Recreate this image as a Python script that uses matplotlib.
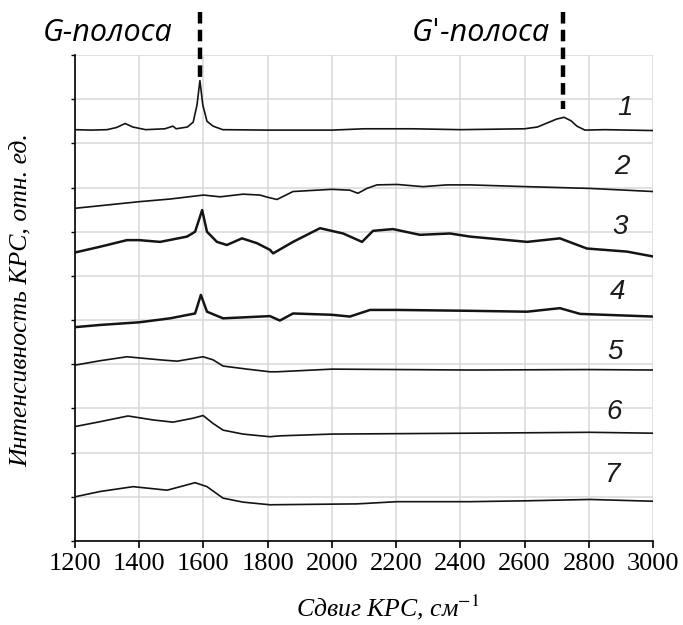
import numpy as np
import matplotlib.pyplot as plt

plt.rcParams['mathtext.fontset'] = 'stix'

# Raman spectra, values (y in grid units, offset stack)
shift_1 = [1200, 1250, 1300, 1330, 1356, 1380, 1420, 1480, 1505, 1515, 1550, 1568, 1580,
           1589, 1598, 1611, 1630, 1660, 1800, 2000, 2100, 2250, 2400, 2600, 2640, 2670,
           2700, 2723, 2745, 2763, 2788, 2850, 3000]
int_1 = [9.31, 9.30, 9.31, 9.36, 9.45, 9.37, 9.31, 9.33, 9.39, 9.33, 9.37, 9.48, 9.87,
         10.42, 9.87, 9.50, 9.39, 9.31, 9.30, 9.30, 9.33, 9.33, 9.31, 9.33, 9.37, 9.46,
         9.55, 9.59, 9.51, 9.39, 9.30, 9.31, 9.29]

shift_2 = [1200, 1400, 1496, 1600, 1652, 1723, 1776, 1800, 1829, 1879, 2000, 2056, 2081,
           2109, 2140, 2203, 2284, 2358, 2430, 2608, 2804, 3000]
int_2 = [7.53, 7.68, 7.74, 7.83, 7.79, 7.85, 7.83, 7.78, 7.73, 7.91, 7.96, 7.94, 7.87,
         7.98, 8.06, 8.07, 8.02, 8.06, 8.06, 8.02, 7.98, 7.91]

shift_3 = [1200, 1278, 1362, 1400, 1465, 1549, 1574, 1596, 1611, 1642, 1673, 1720, 1767,
           1807, 1817, 1879, 1963, 2035, 2094, 2128, 2190, 2274, 2368, 2430, 2608, 2710,
           2794, 2919, 3000]
int_3 = [6.53, 6.66, 6.81, 6.81, 6.77, 6.89, 7.00, 7.49, 7.00, 6.77, 6.70, 6.85, 6.74,
         6.59, 6.51, 6.77, 7.08, 6.96, 6.77, 7.02, 7.06, 6.93, 6.96, 6.89, 6.77, 6.85,
         6.62, 6.55, 6.44]

shift_4 = [1200, 1278, 1400, 1496, 1574, 1592, 1611, 1661, 1807, 1838, 1879, 2000, 2056,
           2119, 2203, 2430, 2608, 2710, 2773, 3000]
int_4 = [4.84, 4.89, 4.95, 5.04, 5.15, 5.57, 5.19, 5.04, 5.09, 4.99, 5.15, 5.12, 5.08,
         5.23, 5.23, 5.21, 5.19, 5.27, 5.14, 5.08]

shift_5 = [1200, 1278, 1362, 1465, 1518, 1599, 1630, 1661, 1736, 1807, 1829, 2000, 2430,
           2800, 3000]
int_5 = [3.98, 4.08, 4.17, 4.10, 4.07, 4.17, 4.10, 3.96, 3.89, 3.83, 3.83, 3.89, 3.87,
         3.88, 3.87]

shift_6 = [1200, 1278, 1365, 1443, 1505, 1568, 1599, 1630, 1661, 1723, 1807, 1838, 2000,
           2430, 2804, 3000]
int_6 = [2.59, 2.70, 2.83, 2.74, 2.69, 2.78, 2.84, 2.66, 2.51, 2.42, 2.36, 2.38, 2.42,
         2.44, 2.46, 2.44]

shift_7 = [1200, 1278, 1381, 1487, 1574, 1611, 1661, 1723, 1807, 2078, 2203, 2430, 2608,
           2804, 3000]
int_7 = [1.00, 1.12, 1.23, 1.15, 1.32, 1.23, 0.97, 0.88, 0.82, 0.84, 0.89, 0.89, 0.91,
         0.94, 0.90]

spectra = [(shift_1, int_1), (shift_2, int_2), (shift_3, int_3), (shift_4, int_4),
           (shift_5, int_5), (shift_6, int_6), (shift_7, int_7)]
curve_labels = ['1', '2', '3', '4', '5', '6', '7']
label_x = [2913, 2904, 2897, 2891, 2882, 2879, 2872]
label_y = [9.80, 8.47, 7.11, 5.64, 4.28, 2.92, 1.49]

g_band = 1590
g2_band = 2720

fig = plt.figure(figsize=(6.83, 6.25), dpi=100)
ax = fig.add_axes([0.1098, 0.1344, 0.8463, 0.7776])

for i, (xs, ys) in enumerate(spectra):
    lw = 1.8 if i in (2, 3) else 1.2
    ax.plot(xs, ys, color='#141414', lw=lw, zorder=3)

for lab, lx, ly in zip(curve_labels, label_x, label_y):
    ax.text(lx, ly, lab, ha='center', va='center', fontsize=20, style='italic',
            family=['Liberation Sans Narrow', 'Liberation Sans'], color='#1a1a1a')

# band markers
ax.plot([g_band, g_band], [11.97, 10.45], color='black', lw=3.2,
        linestyle=(0, (2.6, 1.4)), clip_on=False, zorder=4)
ax.plot([g2_band, g2_band], [11.97, 9.78], color='black', lw=3.2,
        linestyle=(0, (2.6, 1.4)), clip_on=False, zorder=4)
ax.text(1303, 11.5, 'G-полоса', ha='center', va='center', fontsize=22,
        style='italic', family=['Open Sans', 'DejaVu Sans'])
ax.text(2464, 11.5, 'Gˈ-полоса', ha='center', va='center', fontsize=22,
        style='italic', family=['Open Sans', 'DejaVu Sans'])

ax.set_xlim(1200, 3000)
ax.set_ylim(0, 11)
ax.set_xticks(np.arange(1200, 3001, 200))
ax.set_yticks(np.arange(0, 12, 1))
ax.set_yticklabels([])
ax.grid(True, color='#d9d9d9', lw=1.1)
ax.set_axisbelow(True)
for s in ['top', 'right']:
    ax.spines[s].set_visible(False)
for s in ['left', 'bottom']:
    ax.spines[s].set_linewidth(1.2)
ax.tick_params(axis='x', direction='out', length=5, width=1.2, labelsize=19, pad=4)
ax.tick_params(axis='y', direction='out', length=3, width=1.0)
for t in ax.get_xticklabels():
    t.set_family('Liberation Serif')

ax.set_xlabel('Сдвиг КРС, см$^{\\mathit{-1}}$', fontsize=18.5, style='italic',
              family='Liberation Serif')
ax.xaxis.set_label_coords(0.541, -0.107)
ax.set_ylabel('Интенсивность КРС, отн. ед.', fontsize=18.5, style='italic',
              family='Liberation Serif')
ax.yaxis.set_label_coords(-0.074, 0.495)

fig.savefig('out.png', dpi=100)
